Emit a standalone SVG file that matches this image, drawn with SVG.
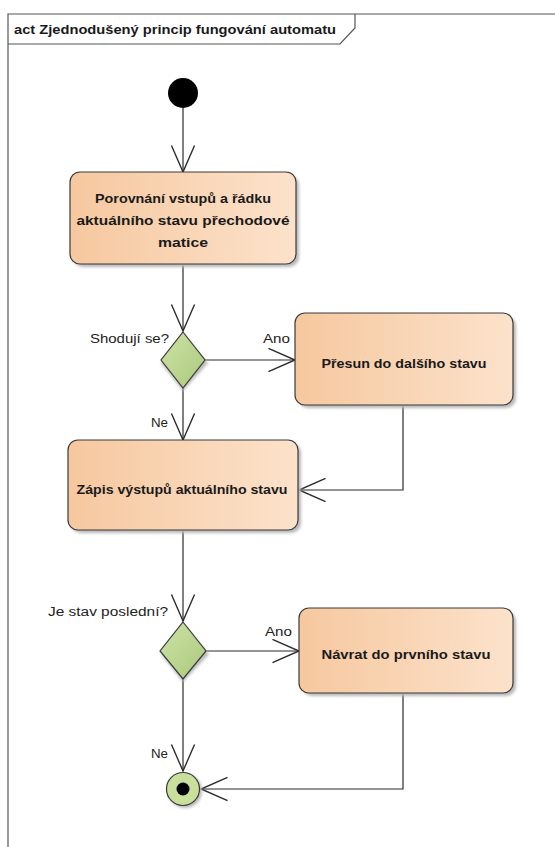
<svg xmlns="http://www.w3.org/2000/svg" width="555" height="847" viewBox="0 0 555 847">
  <style>
    .frame { fill: none; stroke: #555; stroke-width: 1.2; }
    .act { fill: url(#actFill); stroke: #3a3a3a; stroke-width: 1.2; }
    .shadow { fill: #b8b8b8; filter: url(#soft); }
    .dec { fill: url(#decFill); stroke: #3a3a3a; stroke-width: 1.2; }
    .edge { fill: none; stroke: #2b2b2b; stroke-width: 1.2; marker-end: url(#open); }
    .lbl { font-family: "Liberation Sans", Arial, sans-serif; font-size: 12px; fill: #222; }
    .name { font-family: "Liberation Sans", Arial, sans-serif; font-size: 12.5px; font-weight: bold; fill: #1a1a1a; text-anchor: middle; }
    .title { font-family: "Liberation Sans", Arial, sans-serif; font-size: 13px; font-weight: bold; fill: #1a1a1a; }
  </style>
  <defs>
    <linearGradient id="actFill" x1="0" y1="0" x2="1" y2="0">
      <stop offset="0" stop-color="#f6c89f"/>
      <stop offset="1" stop-color="#fce2cb"/>
    </linearGradient>
    <linearGradient id="decFill" x1="0" y1="0" x2="1" y2="1">
      <stop offset="0" stop-color="#cfe3a6"/>
      <stop offset="1" stop-color="#a9c97c"/>
    </linearGradient>
    <filter id="soft" x="-10%" y="-10%" width="120%" height="120%">
      <feGaussianBlur stdDeviation="1.5"/>
    </filter>
    <marker id="open" markerUnits="userSpaceOnUse" markerWidth="30" markerHeight="30" viewBox="-24 -12 26 24" refX="0" refY="0" orient="auto">
      <path d="M-23,-10 L0,0 L-23,10" fill="none" stroke="#2b2b2b" stroke-width="1.2"/>
    </marker>
  </defs>

  <rect width="555" height="847" fill="#ffffff"/>

  <!-- activity frame with name tab -->
  <g id="frame">
    <path class="frame" d="M8,847 V14 H555"/>
    <path class="frame" d="M8,44 H340 L355,28 V14"/>
    <text class="title" x="14" y="34" textLength="322" lengthAdjust="spacingAndGlyphs">act Zjednodušený princip fungování automatu</text>
  </g>

  <!-- connectors -->
  <g id="connectors">
    <path class="edge" d="M183,108 V172"/>
    <path class="edge" d="M183,264 V331"/>
    <path class="edge" d="M205,360 H295"/>
    <path class="edge" d="M183,388 V440"/>
    <path class="edge" d="M403,405 V490 H299"/>
    <path class="edge" d="M183,530 V621"/>
    <path class="edge" d="M206,651 H299"/>
    <path class="edge" d="M183,679 V771"/>
    <path class="edge" d="M403,693 V789 H201"/>
    <text class="lbl" x="263" y="343" textLength="27" lengthAdjust="spacingAndGlyphs">Ano</text>
    <text class="lbl" x="151" y="427" textLength="17" lengthAdjust="spacingAndGlyphs">Ne</text>
    <text class="lbl" x="265" y="636" textLength="27" lengthAdjust="spacingAndGlyphs">Ano</text>
    <text class="lbl" x="151" y="758" textLength="17" lengthAdjust="spacingAndGlyphs">Ne</text>
  </g>

  <!-- initial node -->
  <g id="start">
    <circle cx="183" cy="93" r="15" fill="#000"/>
  </g>

  <!-- actions -->
  <g id="compare">
    <rect class="shadow" x="73" y="175" width="226" height="92" rx="10"/>
    <rect class="act" x="70" y="172" width="226" height="92" rx="10"/>
    <text class="name" x="183" y="203" textLength="176" lengthAdjust="spacingAndGlyphs">Porovnání vstupů a řádku</text>
    <text class="name" x="183" y="225" textLength="213" lengthAdjust="spacingAndGlyphs">aktuálního stavu přechodové</text>
    <text class="name" x="183" y="247" textLength="50" lengthAdjust="spacingAndGlyphs">matice</text>
  </g>

  <g id="match">
    <path class="shadow" d="M183,335 L208,363 L183,391 L161,363 Z"/>
    <path class="dec" d="M183,332 L205,360 L183,388 L161,360 Z"/>
    <text class="lbl" x="90" y="343" textLength="79" lengthAdjust="spacingAndGlyphs">Shodují se?</text>
  </g>

  <g id="next">
    <rect class="shadow" x="298" y="316" width="218" height="92" rx="10"/>
    <rect class="act" x="295" y="313" width="218" height="92" rx="10"/>
    <text class="name" x="404" y="368" textLength="165" lengthAdjust="spacingAndGlyphs">Přesun do dalšího stavu</text>
  </g>

  <g id="write">
    <rect class="shadow" x="71" y="443" width="230" height="90" rx="10"/>
    <rect class="act" x="68" y="440" width="230" height="90" rx="10"/>
    <text class="name" x="182" y="494" textLength="211" lengthAdjust="spacingAndGlyphs">Zápis výstupů aktuálního stavu</text>
  </g>

  <g id="last">
    <path class="shadow" d="M183,625 L209,654 L183,682 L161,654 Z"/>
    <path class="dec" d="M183,622 L206,651 L183,679 L160,651 Z"/>
    <text class="lbl" x="48" y="616" textLength="120" lengthAdjust="spacingAndGlyphs">Je stav poslední?</text>
  </g>

  <g id="back">
    <rect class="shadow" x="302" y="611" width="214" height="85" rx="10"/>
    <rect class="act" x="299" y="608" width="214" height="85" rx="10"/>
    <text class="name" x="406" y="659" textLength="169" lengthAdjust="spacingAndGlyphs">Návrat do prvního stavu</text>
  </g>

  <!-- final node -->
  <g id="end">
    <circle cx="185" cy="791" r="17" fill="#b8b8b8" filter="url(#soft)"/>
    <circle cx="183" cy="789" r="16.5" fill="#c8e09c" stroke="#3a3a3a" stroke-width="1.2"/>
    <circle cx="183" cy="789" r="6.5" fill="#000"/>
  </g>
</svg>
